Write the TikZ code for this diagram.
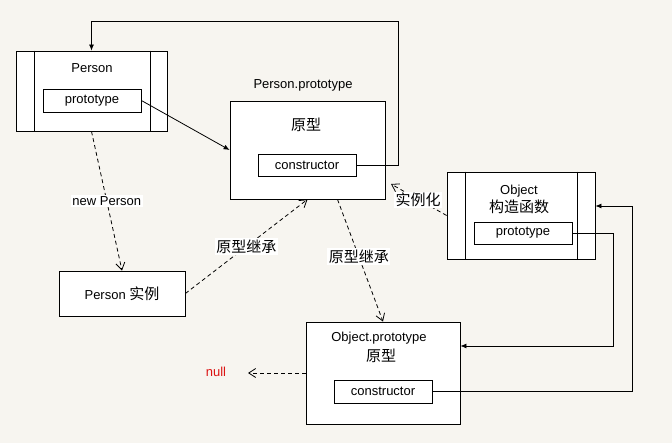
\documentclass[tikz,border=0pt]{standalone}
\usepackage{fontspec}
\setmainfont{Liberation Sans}
\newfontfamily\cjk{Noto Sans CJK SC}
\usetikzlibrary{arrows.meta,calc}
\definecolor{bg}{RGB}{247,245,240}
\definecolor{nullred}{RGB}{220,20,20}
\tikzset{
  box/.style={draw, fill=white, line width=0.8pt, inner sep=0pt},
  txt/.style={inner sep=0pt, font=\fontsize{13}{15}\selectfont},
  cjktxt/.style={inner sep=0pt, font=\fontsize{15}{17}\selectfont\cjk},
  lbl/.style={fill=white, inner sep=1.5pt},
  solidarrow/.style={line width=0.8pt, -{Latex[length=6pt,width=5pt]}},
  dasharrow/.style={line width=0.8pt, dash pattern=on 4pt off 3pt, -{Straight Barb[length=7pt,width=9pt]}},
  plainline/.style={line width=0.8pt}
}
\begin{document}
\begin{tikzpicture}[x=1pt,y=-1pt]
\fill[bg] (0,0) rectangle (672,443);
\useasboundingbox (0,0) rectangle (672,443);

% Person constructor
\node[box, minimum width=151pt, minimum height=80pt] (person) at (91.5,91) {};
\draw[plainline] ([xshift=19pt]person.north west) -- ([xshift=19pt]person.south west);
\draw[plainline] ([xshift=-17pt]person.north east) -- ([xshift=-17pt]person.south east);
\node[txt] (persontitle) at (92,68) {Person};
\node[box, minimum width=98pt, minimum height=23pt, txt] (pproto) at (92,100.5) {prototype};

% Person.prototype
\node[txt] (pplabel) at (303,85) {Person.prototype};
\node[box, minimum width=155pt, minimum height=98pt] (pp) at (307.5,150) {};
\node[cjktxt] (pptitle) at (306,125) {原型};
\node[box, minimum width=98pt, minimum height=22pt, txt] (pcons) at (307,165) {constructor};

% Object constructor
\node[box, minimum width=148pt, minimum height=87pt] (obj) at (521,215.5) {};
\draw[plainline] ([xshift=19pt]obj.north west) -- ([xshift=19pt]obj.south west);
\draw[plainline] ([xshift=-18pt]obj.north east) -- ([xshift=-18pt]obj.south east);
\node[txt] (objtitle) at (519,191) {Object};
\node[cjktxt] (objsub) at (519,207) {构造函数};
\node[box, minimum width=98pt, minimum height=22pt, txt] (oproto) at (523,233) {prototype};

% Person instance
\node[box, minimum width=126pt, minimum height=45pt, txt] (inst) at (122,293.5) {Person {\cjk\fontsize{15}{17}\selectfont 实例}};

% Object.prototype
\node[box, minimum width=154pt, minimum height=102pt] (op) at (383,373) {};
\node[txt] (optitle) at (379,338) {Object.prototype};
\node[cjktxt] (opsub) at (381,356) {原型};
\node[box, minimum width=98pt, minimum height=23pt, txt] (ocons) at (383,391.5) {constructor};

% null
\node[txt, text=nullred, inner sep=3pt] (null) at (216,372) {null};

% coordinates
\coordinate (c1) at (398,21);
\coordinate (c2) at (391,184);
\coordinate (c3) at (613,346);
\coordinate (c4) at (632,206);
\coordinate (c5) at (248,373);

% connectors
\draw[solidarrow] (pproto.east) -- (pp.west);
\draw[solidarrow] (pcons.east) -| (c1) -| (person.north);
\draw[dasharrow] (person.south) -- node[lbl, txt, fill=white, inner sep=1.5pt] (lnew) {new Person} (inst.north);
\draw[dasharrow] (inst.east) -- node[lbl, cjktxt, fill=white, inner sep=1.5pt] (linh1) {原型继承} (pp.south);
\draw[dasharrow] ([xshift=30pt]pp.south) -- node[lbl, cjktxt, fill=white, inner sep=1.5pt, pos=0.47] (linh2) {原型继承} (op.north);
\draw[dasharrow] (obj.west) -- (c2);
\node[lbl, cjktxt, fill=white, inner sep=1.5pt] (linst) at (418,200) {实例化};
\draw[dasharrow] (op.west) -- (c5);
\draw[solidarrow] (oproto.east) -| (c3) -- (c3 -| op.east);
\draw[solidarrow] (ocons.east) -| (c4) -- (c4 -| obj.east);
\end{tikzpicture}
\end{document}
